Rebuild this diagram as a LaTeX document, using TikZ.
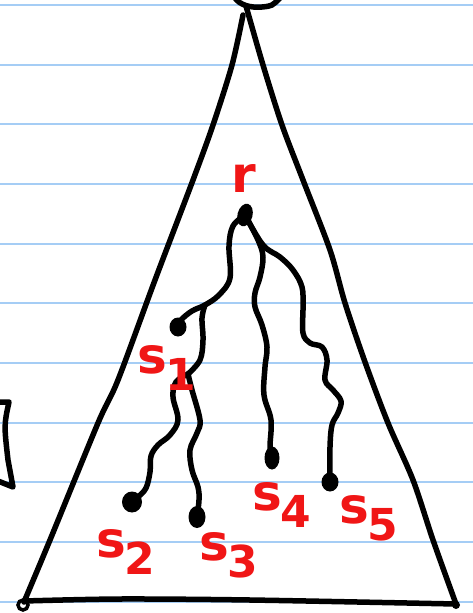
\documentclass[tikz,border=0pt]{standalone}
\usepackage{fontspec}
\usepackage{tikz}
\usetikzlibrary{shapes.geometric,positioning}
\newfontfamily\handfont{DejaVu Sans}
\definecolor{inkred}{RGB}{240,22,22}
\definecolor{ruleblue}{RGB}{165,205,245}
\newcommand{\sidx}[1]{s\kern-1pt\raisebox{-17pt}{\fontsize{44}{44}\selectfont #1}}

\begin{document}
\begin{tikzpicture}[
    x=1pt, y=-1pt,
    ruling/.style={draw=ruleblue, line width=2pt},
    edge/.style={line width=5.5pt, line cap=round, line join=round},
    wire/.style={line width=5.5pt, line cap=round, line join=round},
    dot/.style={ellipse, fill, inner sep=0pt, minimum width=17pt, minimum height=19pt},
    lab/.style={text=inkred, font=\handfont\bfseries\fontsize{50}{50}\selectfont, inner sep=0pt, anchor=base west}
]
    \useasboundingbox (0,0) rectangle (473,613);
    \clip (0,0) rectangle (473,613);

    % ruled paper
    \foreach \k in {0,...,10}
        \draw[ruling] (0,5+59.67*\k) -- (473,5+59.67*\k);

    % triangle
    \draw[edge] plot[smooth, tension=0.5] coordinates {(243,15) (232,65) (213,125) (193,180) (155,280) (118,380) (98,423) (50,540) (24,602)};
    \draw[edge] plot[smooth, tension=0.5] coordinates {(246,6) (263,65) (282,125) (303,180) (330,250) (345,303) (365,362) (388,423) (413,480) (433,540) (456,604)};
    \draw[edge] plot[smooth, tension=0.5] coordinates {(24,601) (120,599) (250,600) (456,604)};
    \draw[edge] (235,-2) .. controls (240,5) and (250,8) .. (262,7) .. controls (272,6) .. (280,-2);
    \draw[line width=3.5pt] (23,605) circle (5pt);
    \fill (456,605) circle (4pt);

    % bracket at the left edge
    \draw[edge] (-2,402) -- (9,402) .. controls (4,425) .. (8,460) -- (13,487) -- (-2,481);

    % root and leaves
    \node[dot, minimum width=15pt, minimum height=23pt, rotate=-15] (r) at (245,215) {};
    \node[dot] (s1) at (178,327) {};
    \node[dot, minimum width=20pt, minimum height=21pt] (s2) at (132,502) {};
    \node[dot, minimum height=22pt] (s3) at (197,517) {};
    \node[dot, minimum width=15pt, minimum height=23pt] (s4) at (272,458) {};
    \node[dot] (s5) at (330,482) {};
    \fill[white] (s3.center) circle (1.5pt);

    \coordinate (j1) at (205,305);
    \coordinate (j2) at (188,374);

    % wires
    \draw[wire] plot[smooth, tension=0.6] coordinates {(r.center) (233,226) (229,246) (230,278) (219,295) (j1) (192,311) (181,320) (s1.center)};
    \draw[wire] plot[smooth, tension=0.6] coordinates {(j1) (202,318) (203,340) (200,360) (j2)};
    \draw[wire] plot[smooth, tension=0.6] coordinates {(j2) (176,382) (173,397) (178,420) (170,435) (158,445) (151,456) (150,472) (146,488) (138,497) (s2.center)};
    \draw[wire] plot[smooth, tension=0.6] coordinates {(j2) (192,390) (200,420) (197,433) (190,450) (192,470) (198,487) (199,500) (s3.center)};
    \draw[wire] plot[smooth, tension=0.6] coordinates {(r.center) (258,240) (263,257) (260,277) (255,293) (255,307) (262,325) (267,347) (265,367) (264,395) (271,420) (270,447) (s4.center)};
    \draw[wire] plot[smooth, tension=0.6] coordinates {(r.center) (263,245) (280,257) (293,270) (302,287) (303,307) (303,333) (310,343) (322,347) (327,360) (325,380) (333,390) (341,401) (338,413) (332,425) (330,447) (s5.center)};

    % labels
    \node[lab] (r-lab) at (231,192) {r};
    \node[lab] (s1-lab) at (137,373) {\sidx{1}};
    \node[lab] (s2-lab) at (96,557) {\sidx{2}};
    \node[lab] (s3-lab) at (199,560) {\sidx{3}};
    \node[lab] (s4-lab) at (252,510) {\sidx{4}};
    \node[lab] (s5-lab) at (339,523) {\sidx{5}};
\end{tikzpicture}
\end{document}
